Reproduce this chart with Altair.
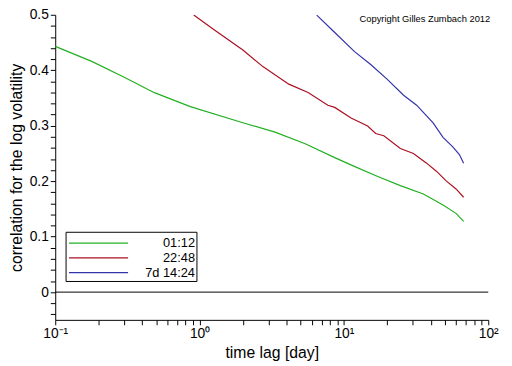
import altair as alt
import pandas as pd

series_names = ["01:12", "22:48", "7d 14:24"]
series_colors = ["#22b022", "#aa1122", "#3333aa"]

green_x = [0.1, 0.179, 0.303, 0.486, 0.863, 1.995, 3.37, 5.39, 8.64, 11.8, 17.0, 24.6, 35.5, 48.6, 59.8, 67.5]
green_y = [0.443, 0.416, 0.387, 0.3596, 0.3344, 0.3054, 0.288, 0.2675, 0.2425, 0.2267, 0.209, 0.192, 0.177, 0.157, 0.142, 0.1276]

red_x = [0.911, 1.246, 1.995, 2.73, 4.15, 5.65, 7.74, 8.64, 11.2, 14.6, 16.6, 18.9, 24.6, 30.3, 37.4, 43.7, 51.1, 59.8, 67.5]
red_y = [0.4995, 0.474, 0.4365, 0.407, 0.375, 0.360, 0.337, 0.333, 0.314, 0.2995, 0.286, 0.282, 0.259, 0.250, 0.2325, 0.218, 0.2005, 0.186, 0.171]

blue_x = [6.48, 8.64, 11.8, 15.4, 19.9, 25.9, 31.9, 41.5, 48.6, 56.8, 63.1, 67.5]
blue_y = [0.4995, 0.468, 0.434, 0.410, 0.384, 0.355, 0.337, 0.305, 0.279, 0.262, 0.248, 0.2325]

x_ticks = [0.1, 0.2, 0.3, 0.4, 0.5, 0.6, 0.7, 0.8, 0.9,
           1, 2, 3, 4, 5, 6, 7, 8, 9,
           10, 20, 30, 40, 50, 60, 70, 80, 90, 100]
y_ticks = [-0.04, -0.02, 0.0, 0.02, 0.04, 0.06, 0.08, 0.1, 0.12, 0.14, 0.16, 0.18,
           0.2, 0.22, 0.24, 0.26, 0.28, 0.3, 0.32, 0.34, 0.36, 0.38, 0.4,
           0.42, 0.44, 0.46, 0.48, 0.5]
zero_level = [0.0]
copyright_text = ["Copyright Gilles Zumbach 2012"]

rows = []
for name, xs, ys in zip(series_names, [green_x, red_x, blue_x], [green_y, red_y, blue_y]):
    for i, (a, b) in enumerate(zip(xs, ys)):
        rows.append({"lag": a, "corr": b, "series": name, "order": i})
df = pd.DataFrame(rows)
legend_df = pd.DataFrame({"series": series_names})

FONT = "Liberation Sans"

x_label_expr = (
    "abs(log(datum.value)/LN10 - round(log(datum.value)/LN10)) < 0.001 ? "
    "('10' + (round(log(datum.value)/LN10) == -1 ? '\u207b\u00b9' : "
    "round(log(datum.value)/LN10) == 0 ? '\u2070' : "
    "round(log(datum.value)/LN10) == 1 ? '\u00b9' : '\u00b2')) : ''"
)

y_label_expr = (
    "abs(datum.value*10 - round(datum.value*10)) < 0.001 ? "
    "(abs(datum.value) < 0.001 ? '0' : format(datum.value, '.1f')) : ''"
)

x_axis = alt.Axis(
    orient="bottom",
    values=x_ticks,
    labelExpr=x_label_expr,
    labelFlush=False,
    labelOverlap=False,
    ticks=True,
    tickSize=5,
    tickWidth=1,
    tickColor="black",
    labelFontSize=14,
    labelPadding=2,
    title="time lag  [day]",
    titleFontSize=16,
    titleFontWeight="normal",
    titlePadding=4,
    grid=False,
)
y_axis = alt.Axis(
    orient="left",
    values=y_ticks,
    labelExpr=y_label_expr,
    labelOverlap=False,
    labelFlush=False,
    ticks=True,
    tickSize=5,
    tickWidth=1,
    tickColor="black",
    labelFontSize=14,
    labelPadding=2,
    title="correlation for the log volatility",
    titleFontSize=16,
    titleFontWeight="normal",
    titlePadding=5,
    grid=False,
)
x_scale = alt.Scale(type="log", domain=[0.1, 100], nice=False)
y_scale = alt.Scale(domain=[-0.05, 0.5], nice=False, zero=False)
color_scale = alt.Scale(domain=series_names, range=series_colors)

lines = alt.Chart(df).mark_line(strokeWidth=1.2, clip=True).encode(
    x=alt.X("lag:Q", scale=x_scale, axis=x_axis),
    y=alt.Y("corr:Q", scale=y_scale, axis=y_axis),
    order="order:Q",
    color=alt.Color("series:N", scale=color_scale, legend=None),
)

zero_rule = alt.Chart(pd.DataFrame({"corr": zero_level})).mark_rule(
    color="black", strokeWidth=1
).encode(y=alt.Y("corr:Q", scale=y_scale, axis=y_axis))

note = alt.Chart(pd.DataFrame({"t": copyright_text})).mark_text(
    align="right", baseline="middle", fontSize=9.5, font=FONT, color="black"
).encode(text="t:N", x=alt.value(442), y=alt.value(4))

legend_y = alt.Y(
    "series:N",
    scale=alt.Scale(type="point", domain=series_names, range=[232, 262], padding=0),
    axis=None,
)
legend_box = alt.Chart(pd.DataFrame({"series": series_names[:1]})).mark_rect(
    fill="white", stroke="black", strokeWidth=1
).encode(x=alt.value(11), x2=alt.value(144), y=alt.value(221), y2=alt.value(271))
legend_lines = alt.Chart(legend_df).mark_rule(strokeWidth=1.2).encode(
    x=alt.value(14),
    x2=alt.value(74),
    y=legend_y,
    color=alt.Color("series:N", scale=color_scale, legend=None),
)
legend_text = alt.Chart(legend_df).mark_text(
    align="right", baseline="middle", fontSize=13, font=FONT, color="black"
).encode(x=alt.value(142), y=legend_y, text="series:N")

main = alt.layer(zero_rule, lines, note)
leg = alt.layer(legend_box, legend_lines, legend_text)

chart = (
    alt.layer(main, leg)
    .resolve_scale(y="independent")
    .properties(
        width=440,
        height=310,
        autosize=alt.AutoSizeParams(type="none"),
        padding={"left": 48, "top": 4, "right": 16, "bottom": 44},
    )
    .configure_view(stroke=None)
    .configure_axis(
        labelFont=FONT,
        titleFont=FONT,
        domainColor="black",
        tickColor="black",
        labelColor="black",
        titleColor="black",
    )
)

chart.save("out.html", embed_options={"renderer": "svg", "actions": False})
